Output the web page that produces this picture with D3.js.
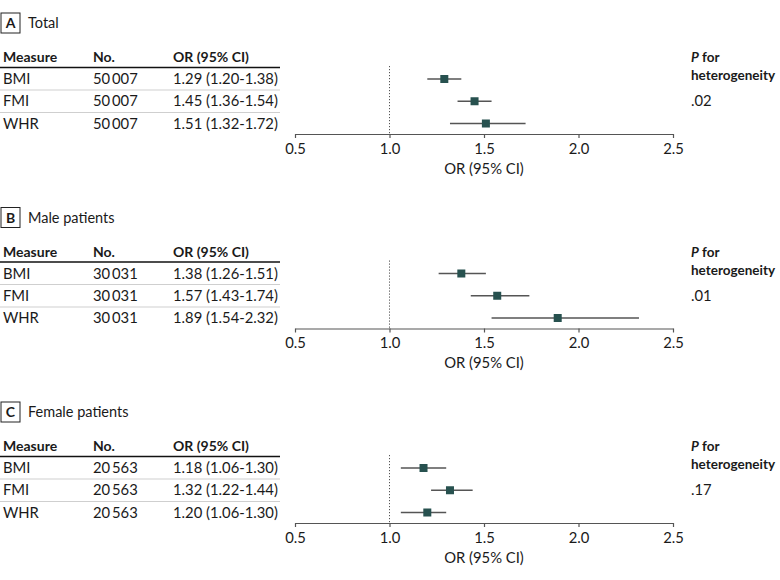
<!DOCTYPE html>
<html>
<head>
<meta charset="utf-8">
<script src="https://cdn.jsdelivr.net/npm/d3@7/dist/d3.min.js"></script>
<style>
  html, body { margin: 0; padding: 0; background: #fff; }
  svg text { font-family: Lato, "Noto Sans", sans-serif; fill: #1a1a1a; }
</style>
</head>
<body>
<svg id="chart" width="780" height="580"></svg>
<script>
// ---- data ----
const panelLetters = ["A", "B", "C"];
const panelTitles = ["Total", "Male patients", "Female patients"];
const measures = ["BMI", "FMI", "WHR"];
const counts = ["50\u2009007", "30\u2009031", "20\u2009563"];
const orTotal = [1.29, 1.45, 1.51];
const lowTotal = [1.20, 1.36, 1.32];
const highTotal = [1.38, 1.54, 1.72];
const orMale = [1.38, 1.57, 1.89];
const lowMale = [1.26, 1.43, 1.54];
const highMale = [1.51, 1.74, 2.32];
const orFemale = [1.18, 1.32, 1.20];
const lowFemale = [1.06, 1.22, 1.06];
const highFemale = [1.30, 1.44, 1.30];
const pHeterogeneity = [".02", ".01", ".17"];
const axisTicks = [0.5, 1.0, 1.5, 2.0, 2.5];
const nullValue = 1.0;

const panels = [
  { or: orTotal, low: lowTotal, high: highTotal },
  { or: orMale, low: lowMale, high: highMale },
  { or: orFemale, low: lowFemale, high: highFemale }
];

// ---- layout ----
const svg = d3.select("#chart");
const x = d3.scaleLinear().domain([0.5, 2.5]).range([295, 673]);
const panelStep = 194.5;
const rowY = d3.scalePoint().domain(measures).range([79, 123.5]);
const fmt = d3.format(".2f");
const markColor = "#27514f";
const fs = 14.8;

panels.forEach((p, i) => {
  const g = svg.append("g").attr("transform", `translate(0,${i * panelStep})`);

  // title box
  g.append("rect").attr("x", 1).attr("y", 13).attr("width", 19).attr("height", 20)
    .attr("fill", "none").attr("stroke", "#222").attr("stroke-width", 1);
  g.append("text").attr("x", 10.5).attr("y", 28).attr("text-anchor", "middle")
    .attr("font-size", 14).attr("font-weight", "bold").text(panelLetters[i]);
  g.append("text").attr("x", 28).attr("y", 28).attr("font-size", 14.5).text(panelTitles[i]);

  // header
  const hy = 62;
  g.append("text").attr("x", 3).attr("y", hy).attr("font-size", 14).attr("font-weight", "bold").text("Measure");
  g.append("text").attr("x", 93).attr("y", hy).attr("font-size", 14).attr("font-weight", "bold").text("No.");
  g.append("text").attr("x", 173).attr("y", hy).attr("font-size", 14).attr("font-weight", "bold").text("OR (95% CI)");
  g.append("line").attr("x1", 0).attr("x2", 280).attr("y1", 67.5).attr("y2", 67.5)
    .attr("stroke", "#111").attr("stroke-width", 1.3);

  // row separators
  [90, 112.5].forEach(yy => {
    g.append("line").attr("x1", 0).attr("x2", 280).attr("y1", yy).attr("y2", yy)
      .attr("stroke", "#cfcfcf").attr("stroke-width", 1);
  });

  // rows text
  measures.forEach((m, j) => {
    const ty = rowY(m) + 5;
    g.append("text").attr("x", 3).attr("y", ty).attr("font-size", fs).text(m);
    g.append("text").attr("x", 93).attr("y", ty).attr("font-size", fs).text(counts[i]);
    g.append("text").attr("x", 173).attr("y", ty).attr("font-size", fs)
      .text(`${fmt(p.or[j])} (${fmt(p.low[j])}-${fmt(p.high[j])})`);
  });

  // null line
  g.append("line").attr("x1", x(nullValue)).attr("x2", x(nullValue)).attr("y1", 66).attr("y2", 134)
    .attr("stroke", "#555").attr("stroke-width", 1).attr("stroke-dasharray", "1.2,1.8");

  // CIs and points
  measures.forEach((m, j) => {
    g.append("line").attr("x1", x(p.low[j])).attr("x2", x(p.high[j]))
      .attr("y1", rowY(m)).attr("y2", rowY(m))
      .attr("stroke", "#555").attr("stroke-width", 1.4);
    g.append("rect").attr("x", x(p.or[j]) - 4).attr("y", rowY(m) - 4)
      .attr("width", 8).attr("height", 8).attr("fill", markColor);
  });

  // axis
  const ax = g.append("g").attr("transform", "translate(0,134)")
    .call(d3.axisBottom(x).tickValues(axisTicks).tickFormat(d3.format(".1f")).tickSize(4).tickSizeOuter(0));
  ax.select(".domain").attr("stroke", "#555").attr("stroke-width", 1.2);
  ax.selectAll(".tick line").attr("stroke", "#555").attr("stroke-width", 1.2);
  ax.selectAll(".tick text").attr("font-size", fs).attr("font-family", "Lato, 'Noto Sans', sans-serif")
    .attr("fill", "#1a1a1a").attr("dy", "0.85em");
  g.append("text").attr("x", x(1.5)).attr("y", 173.5).attr("text-anchor", "middle")
    .attr("font-size", fs).text("OR (95% CI)");

  // P for heterogeneity
  const pt = g.append("text").attr("x", 691).attr("y", 62).attr("font-size", 13.5).attr("font-weight", "bold");
  pt.append("tspan").attr("font-style", "italic").text("P");
  pt.append("tspan").text(" for");
  g.append("text").attr("x", 691).attr("y", 80).attr("font-size", 13.5).attr("font-weight", "bold").text("heterogeneity");
  g.append("text").attr("x", 691).attr("y", 106).attr("font-size", fs).text(pHeterogeneity[i]);
});
</script>
</body>
</html>
